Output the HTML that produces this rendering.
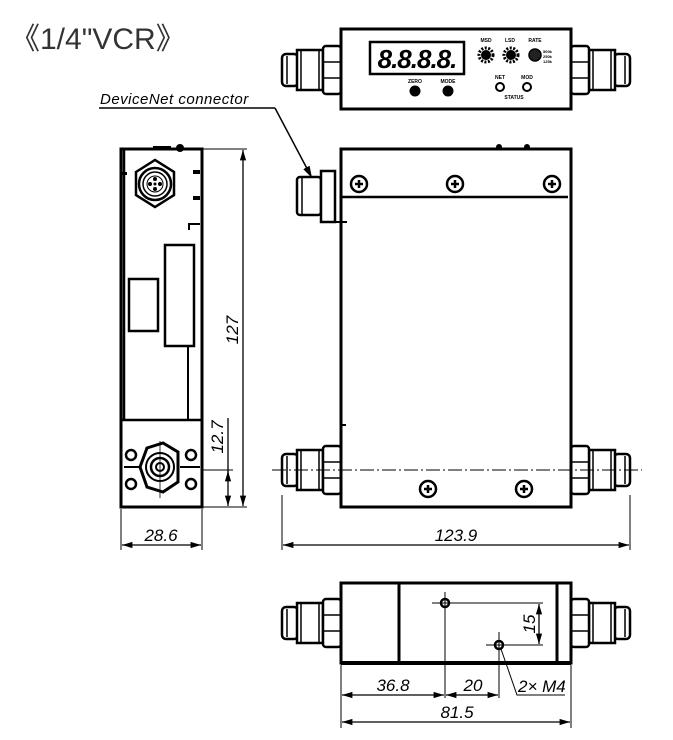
<!DOCTYPE html>
<html><head><meta charset="utf-8"><style>
html,body{margin:0;padding:0;background:#fff;width:673px;height:740px;overflow:hidden}
svg{display:block}
text{font-family:"Liberation Sans","DejaVu Sans",sans-serif}
.d{font-style:italic;font-size:17px}
</style></head><body>
<svg width="673" height="740" viewBox="0 0 673 740" xmlns="http://www.w3.org/2000/svg">
<defs>
<marker id="a" viewBox="0 0 10 10" refX="10" refY="5" markerWidth="8" markerHeight="8" orient="auto-start-reverse"><path d="M0,2 L10,5 L0,8 Z" fill="#000"/></marker>
<g id="fitL">
 <rect x="0" y="-16" width="16" height="32" rx="4" fill="#fff" stroke="#000" stroke-width="2.5"/>
 <line x1="5" y1="-14" x2="5" y2="14" stroke="#000" stroke-width="1.5"/>
 <rect x="15" y="-20" width="26" height="40" fill="#fff" stroke="#000" stroke-width="2.5"/>
 <line x1="19" y1="-20" x2="19" y2="20" stroke="#000" stroke-width="1.5"/>
 <line x1="37" y1="-20" x2="37" y2="20" stroke="#000" stroke-width="1.5"/>
 <rect x="41" y="-24" width="18" height="48" rx="3" fill="#fff" stroke="#000" stroke-width="2.5"/>
 <line x1="41" y1="-8" x2="59" y2="-8" stroke="#000" stroke-width="1.5"/>
 <line x1="41" y1="8" x2="59" y2="8" stroke="#000" stroke-width="1.5"/>
</g>
<g id="scr"><circle r="8" fill="#fff" stroke="#000" stroke-width="2.5"/><path d="M-4,0H4M0,-4V4" stroke="#000" stroke-width="2.5"/></g>
</defs>

<text x="10" y="49" font-size="30" font-family="Liberation Sans,Noto Sans CJK SC,sans-serif" fill="#333">《1/4"VCR》</text>

<!-- TOP VIEW -->
<use href="#fitL" x="282" y="70"/>
<use href="#fitL" transform="translate(630,70) scale(-1,1)"/>
<rect x="341" y="29" width="230" height="80" fill="#fff" stroke="#000" stroke-width="3"/>
<rect x="370" y="42" width="94" height="32" fill="#fff" stroke="#000" stroke-width="2.5"/>
<text x="417" y="68" font-size="26" font-style="italic" font-weight="bold" text-anchor="middle" font-family="Liberation Mono,monospace" letter-spacing="-1">8.8.8.8.</text>
<text x="415" y="83" font-size="5" font-weight="bold" text-anchor="middle">ZERO</text>
<text x="448" y="83" font-size="5" font-weight="bold" text-anchor="middle">MODE</text>
<circle cx="415" cy="91" r="5.5"/><circle cx="448" cy="91" r="5.5"/>
<text x="486" y="42" font-size="5" font-weight="bold" text-anchor="middle">MSD</text>
<text x="510" y="42" font-size="5" font-weight="bold" text-anchor="middle">LSD</text>
<text x="535" y="42" font-size="5" font-weight="bold" text-anchor="middle">RATE</text>
<circle cx="486" cy="55" r="7" fill="none" stroke="#000" stroke-width="3" stroke-dasharray="2 1.5"/><circle cx="486" cy="55" r="5"/>
<circle cx="511" cy="55" r="7" fill="none" stroke="#000" stroke-width="3" stroke-dasharray="2 1.5"/><circle cx="511" cy="55" r="5"/>
<circle cx="535" cy="55" r="6" fill="#222" stroke="#000" stroke-width="1.5"/>
<text x="543" y="53" font-size="4" font-weight="bold">500k</text><text x="543" y="58" font-size="4" font-weight="bold">250k</text><text x="543" y="63" font-size="4" font-weight="bold">125k</text>
<text x="500" y="79" font-size="5" font-weight="bold" text-anchor="middle">NET</text>
<text x="527" y="79" font-size="5" font-weight="bold" text-anchor="middle">MOD</text>
<circle cx="500" cy="87" r="4" fill="#fff" stroke="#000" stroke-width="2"/>
<circle cx="527" cy="87" r="4" fill="#fff" stroke="#000" stroke-width="2"/>
<text x="514" y="99" font-size="5" font-weight="bold" text-anchor="middle">STATUS</text>

<!-- label -->
<text x="100" y="104" font-size="15" font-style="italic" letter-spacing="0.5">DeviceNet connector</text>
<line x1="99" y1="108" x2="275" y2="108" stroke="#000" stroke-width="1.5"/>
<line x1="275" y1="108" x2="312" y2="178" stroke="#000" stroke-width="1.5" marker-end="url(#a)"/>

<!-- FRONT VIEW -->
<use href="#fitL" x="282" y="470"/>
<use href="#fitL" transform="translate(630,470) scale(-1,1)"/>
<rect x="341" y="149" width="230" height="358" fill="#fff" stroke="#000" stroke-width="3"/>
<line x1="341" y1="197" x2="568" y2="197" stroke="#000" stroke-width="2.5"/>
<line x1="571" y1="152" x2="571" y2="197" stroke="#000" stroke-width="3"/>
<circle cx="499" cy="147" r="3"/><circle cx="527" cy="147" r="3"/>
<rect x="297" y="177" width="24" height="38" rx="3" fill="#fff" stroke="#000" stroke-width="2.5"/>
<line x1="302" y1="178" x2="302" y2="214" stroke="#000" stroke-width="1.5"/>
<rect x="321" y="171" width="14" height="51" fill="#fff" stroke="#000" stroke-width="2.5"/>
<line x1="335" y1="222" x2="347" y2="222" stroke="#000" stroke-width="2"/>
<line x1="341" y1="425" x2="346" y2="425" stroke="#000" stroke-width="2"/>
<use href="#scr" x="359" y="184"/><use href="#scr" x="455" y="184"/><use href="#scr" x="552" y="184"/>
<use href="#scr" x="428" y="489"/><use href="#scr" x="524" y="489"/>
<line x1="272" y1="470" x2="642" y2="470" stroke="#000" stroke-width="1" stroke-dasharray="14 3 2 3"/>
<line x1="282" y1="495" x2="282" y2="550" stroke="#000" stroke-width="1"/>
<line x1="630" y1="495" x2="630" y2="550" stroke="#000" stroke-width="1"/>
<line x1="283" y1="545" x2="629" y2="545" stroke="#000" stroke-width="1.3" marker-start="url(#a)" marker-end="url(#a)"/>
<text x="456" y="541" class="d" text-anchor="middle">123.9</text>

<!-- SIDE VIEW -->
<rect x="121" y="149" width="81" height="358" fill="#fff" stroke="#000" stroke-width="3"/>
<path d="M124,149V420 M121,420H202" stroke="#000" stroke-width="2.5" fill="none"/>
<rect x="153" y="146" width="18" height="4" fill="#000"/><circle cx="180" cy="148" r="4"/>
<path d="M136,172 L155,160 L174,172 V195 L155,207 L136,195 Z" fill="#fff" stroke="#000" stroke-width="2.5"/>
<circle cx="155" cy="184" r="16" fill="none" stroke="#000" stroke-width="2.5"/>
<circle cx="155" cy="184" r="12" fill="none" stroke="#000" stroke-width="1.5"/>
<circle cx="155" cy="184" r="8" fill="none" stroke="#000" stroke-width="1"/>
<circle cx="155" cy="179" r="2"/><circle cx="150" cy="184" r="2"/><circle cx="160" cy="184" r="2"/><circle cx="155" cy="189" r="2"/><circle cx="155" cy="184" r="1.5"/>
<rect x="193" y="170" width="7" height="4" fill="#000"/><rect x="193" y="196" width="7" height="4" fill="#000"/>
<rect x="122" y="172" width="5" height="3" fill="#000"/>
<path d="M189,230 V224 H200 M188,347 V420" stroke="#000" stroke-width="2" fill="none"/>
<rect x="165" y="245" width="29" height="101" fill="#fff" stroke="#000" stroke-width="2.5"/>
<rect x="129" y="279" width="29" height="52" fill="#fff" stroke="#000" stroke-width="2.5"/>
<!-- bottom fitting end view -->
<path d="M147,448 L163,443 L178,452 L178,482 L163,492 L147,487 L140,467 Z" fill="#fff" stroke="#000" stroke-width="3"/>
<circle cx="160" cy="467" r="14" fill="none" stroke="#000" stroke-width="2"/>
<circle cx="160" cy="467" r="9" fill="none" stroke="#000" stroke-width="2.5"/>
<circle cx="160" cy="467" r="4" fill="none" stroke="#000" stroke-width="2"/>
<line x1="160" y1="441" x2="160" y2="498" stroke="#000" stroke-width="0.8"/>
<g fill="#fff" stroke="#000" stroke-width="2.5"><circle cx="131" cy="455" r="5"/><circle cx="131" cy="484" r="5"/><circle cx="191" cy="455" r="5"/><circle cx="191" cy="484" r="5"/></g>
<path d="M124,467H140M180,467H200" stroke="#000" stroke-width="2"/>
<!-- side dims -->
<line x1="203" y1="149" x2="247" y2="149" stroke="#000" stroke-width="1"/>
<line x1="203" y1="507" x2="247" y2="507" stroke="#000" stroke-width="1"/>
<line x1="203" y1="470" x2="233" y2="470" stroke="#000" stroke-width="1"/>
<line x1="243" y1="150" x2="243" y2="506" stroke="#000" stroke-width="1.3" marker-start="url(#a)" marker-end="url(#a)"/>
<line x1="228" y1="418" x2="228" y2="506" stroke="#000" stroke-width="1.3" marker-end="url(#a)"/>
<line x1="228" y1="471" x2="228" y2="480" stroke="#000" stroke-width="1.3" marker-start="url(#a)"/>
<text transform="translate(238,330) rotate(-90)" class="d" text-anchor="middle">127</text>
<text transform="translate(223,437) rotate(-90)" class="d" text-anchor="middle">12.7</text>
<line x1="121" y1="509" x2="121" y2="550" stroke="#000" stroke-width="1"/>
<line x1="202" y1="509" x2="202" y2="550" stroke="#000" stroke-width="1"/>
<line x1="122" y1="545" x2="201" y2="545" stroke="#000" stroke-width="1.3" marker-start="url(#a)" marker-end="url(#a)"/>
<text x="161" y="541" class="d" text-anchor="middle">28.6</text>

<!-- BOTTOM VIEW -->
<use href="#fitL" x="282" y="623"/>
<use href="#fitL" transform="translate(630,623) scale(-1,1)"/>
<rect x="341" y="583" width="230" height="80" fill="#fff" stroke="#000" stroke-width="3"/>
<line x1="341" y1="663" x2="571" y2="663" stroke="#000" stroke-width="4"/>
<line x1="399" y1="583" x2="399" y2="663" stroke="#000" stroke-width="3"/>
<line x1="557" y1="583" x2="557" y2="663" stroke="#000" stroke-width="3"/>
<circle cx="445" cy="603" r="4" fill="#fff" stroke="#000" stroke-width="2.5"/>
<circle cx="499" cy="645" r="4" fill="#fff" stroke="#000" stroke-width="2.5"/>
<path d="M432,603H543 M445,592V698 M486,645H543 M499,632V698" stroke="#000" stroke-width="1"/>
<line x1="539" y1="604" x2="539" y2="644" stroke="#000" stroke-width="1.3" marker-start="url(#a)" marker-end="url(#a)"/>
<text transform="translate(535,624) rotate(-90)" class="d" text-anchor="middle">15</text>
<line x1="341" y1="665" x2="341" y2="728" stroke="#000" stroke-width="1"/>
<line x1="571" y1="665" x2="571" y2="728" stroke="#000" stroke-width="1"/>
<line x1="342" y1="695" x2="444" y2="695" stroke="#000" stroke-width="1.3" marker-start="url(#a)" marker-end="url(#a)"/>
<line x1="446" y1="695" x2="498" y2="695" stroke="#000" stroke-width="1.3" marker-start="url(#a)" marker-end="url(#a)"/>
<text x="393" y="691" class="d" text-anchor="middle">36.8</text>
<text x="473" y="691" class="d" text-anchor="middle">20</text>
<path d="M501,649 L517,695 H565" stroke="#000" stroke-width="1" fill="none"/>
<text x="518" y="692" class="d">2× M4</text>
<line x1="342" y1="722" x2="570" y2="722" stroke="#000" stroke-width="1.3" marker-start="url(#a)" marker-end="url(#a)"/>
<text x="457" y="718" class="d" text-anchor="middle">81.5</text>
</svg>
</body></html>
